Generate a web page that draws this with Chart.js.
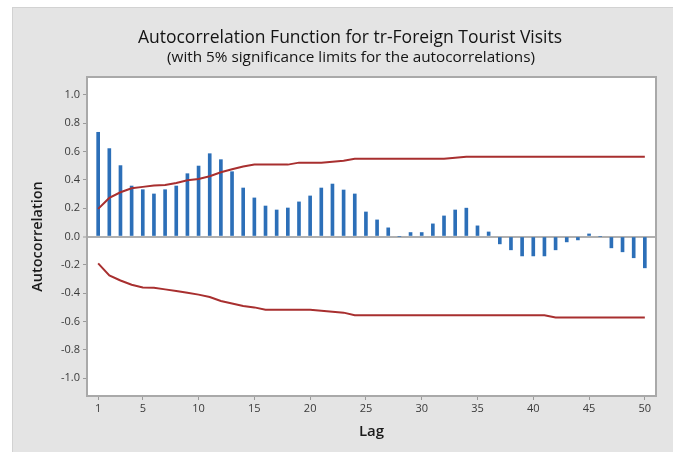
<!DOCTYPE html>
<html>
<head>
<meta charset="utf-8">
<script src="https://cdn.jsdelivr.net/npm/chart.js@4/dist/chart.umd.min.js"></script>
<style>
  html, body { margin: 0; padding: 0; background: #ffffff; }
  #wrap { width: 673px; height: 452px; }
</style>
</head>
<body>
<div id="wrap"><canvas id="acfChart" width="673" height="452"></canvas></div>
<script>
// Lags and sample autocorrelations
const lags = [1,2,3,4,5,6,7,8,9,10,11,12,13,14,15,16,17,18,19,20,21,22,23,24,25,
              26,27,28,29,30,31,32,33,34,35,36,37,38,39,40,41,42,43,44,45,46,47,48,49,50];
const acf = [0.735, 0.62, 0.50, 0.356, 0.33, 0.30, 0.33, 0.356, 0.443, 0.497,
             0.584, 0.542, 0.457, 0.342, 0.272, 0.215, 0.187, 0.201, 0.244, 0.286,
             0.342, 0.37, 0.328, 0.30, 0.173, 0.117, 0.061, 0.0, 0.028, 0.028,
             0.089, 0.145, 0.187, 0.20, 0.075, 0.032, -0.052, -0.094, -0.137, -0.137,
             -0.137, -0.094, -0.038, -0.024, 0.018, 0.0, -0.08, -0.108, -0.15, -0.221];

// 5% significance limits
const upperLimit = [0.195, 0.272, 0.312, 0.34, 0.35, 0.359, 0.364, 0.378, 0.396, 0.406,
                    0.425, 0.453, 0.474, 0.493, 0.507, 0.507, 0.507, 0.507, 0.521, 0.521,
                    0.521, 0.528, 0.535, 0.549, 0.549, 0.549, 0.549, 0.549, 0.549, 0.549,
                    0.549, 0.549, 0.556, 0.563, 0.563, 0.563, 0.563, 0.563, 0.563, 0.563,
                    0.563, 0.563, 0.563, 0.563, 0.563, 0.563, 0.563, 0.563, 0.563, 0.563];
const lowerLimit = [-0.19, -0.275, -0.31, -0.34, -0.359, -0.362, -0.373, -0.385, -0.397, -0.41,
                    -0.427, -0.455, -0.472, -0.49, -0.5, -0.516, -0.516, -0.516, -0.516, -0.516,
                    -0.523, -0.53, -0.537, -0.556, -0.556, -0.556, -0.556, -0.556, -0.556, -0.556,
                    -0.556, -0.556, -0.556, -0.556, -0.556, -0.556, -0.556, -0.556, -0.556, -0.556,
                    -0.556, -0.572, -0.572, -0.572, -0.572, -0.572, -0.572, -0.572, -0.572, -0.572];

// Axis ticks
const xTickValues = [1, 5, 10, 15, 20, 25, 30, 35, 40, 45, 50];
const yTickValues = [-1.0, -0.8, -0.6, -0.4, -0.2, 0.0, 0.2, 0.4, 0.6, 0.8, 1.0];
const yTickLabels = ['-1.0', '-0.8', '-0.6', '-0.4', '-0.2', '0.0', '0.2', '0.4', '0.6', '0.8', '1.0'];

const titleText = 'Autocorrelation Function for tr-Foreign Tourist Visits';
const subtitleText = '(with 5% significance limits for the autocorrelations)';

const FONT = '"Open Sans", "Noto Sans", sans-serif';
const BAR_BLUE = '#2c6fb8';
const LIMIT_RED = '#a82f2f';

// Grey panel, white plot area, frame and headings
const panelPlugin = {
  id: 'panel',
  beforeDraw(chart) {
    const { ctx, chartArea: a } = chart;
    ctx.save();
    ctx.fillStyle = '#ffffff';
    ctx.fillRect(0, 0, chart.width, chart.height);
    ctx.fillStyle = '#e4e4e4';
    ctx.fillRect(12, 7, chart.width - 12, chart.height - 7);
    ctx.strokeStyle = '#d2d2d2';
    ctx.lineWidth = 1;
    ctx.strokeRect(12.5, 7.5, chart.width - 12, chart.height - 7);
    ctx.fillStyle = '#ffffff';
    ctx.fillRect(a.left, a.top, a.right - a.left, a.bottom - a.top);
    ctx.restore();
  },
  afterDraw(chart) {
    const { ctx, chartArea: a } = chart;
    ctx.save();
    ctx.strokeStyle = '#a9a9a9';
    ctx.lineWidth = 2;
    ctx.strokeRect(a.left, a.top, a.right - a.left, a.bottom - a.top);
    ctx.fillStyle = '#141414';
    ctx.textAlign = 'center';
    ctx.textBaseline = 'middle';
    ctx.font = '17.5px ' + FONT;
    ctx.fillText(titleText, 350, 38);
    ctx.font = '15.3px ' + FONT;
    ctx.fillText(subtitleText, 351, 58);
    ctx.restore();
  }
};

new Chart(document.getElementById('acfChart'), {
  type: 'bar',
  data: {
    datasets: [
      {
        type: 'line',
        label: 'Upper limit',
        data: lags.map((l, i) => ({ x: l, y: upperLimit[i] })),
        borderColor: LIMIT_RED,
        borderWidth: 2,
        pointRadius: 0,
        tension: 0,
        fill: false
      },
      {
        type: 'line',
        label: 'Lower limit',
        data: lags.map((l, i) => ({ x: l, y: lowerLimit[i] })),
        borderColor: LIMIT_RED,
        borderWidth: 2,
        pointRadius: 0,
        tension: 0,
        fill: false
      },
      {
        type: 'bar',
        label: 'ACF',
        data: lags.map((l, i) => ({ x: l, y: acf[i] })),
        backgroundColor: BAR_BLUE,
        borderWidth: 0,
        barThickness: 3
      }
    ]
  },
  options: {
    responsive: false,
    animation: false,
    devicePixelRatio: 1,
    layout: { padding: { left: 0, right: 17, top: 77, bottom: 0 } },
    plugins: {
      legend: { display: false },
      tooltip: { enabled: false },
      title: { display: false }
    },
    scales: {
      x: {
        type: 'linear',
        min: 0,
        max: 51,
        offset: false,
        afterBuildTicks: s => { s.ticks = xTickValues.map(v => ({ value: v })); },
        afterFit: s => { s.height = 56; },
        ticks: {
          autoSkip: false,
          maxRotation: 0,
          padding: 2,
          color: '#3a3a3a',
          font: { family: FONT, size: 11 }
        },
        grid: {
          offset: false,
          drawOnChartArea: false,
          drawTicks: true,
          tickLength: 4,
          tickColor: '#9a9a9a',
          tickWidth: 1
        },
        border: { display: false },
        title: {
          display: true,
          text: 'Lag',
          color: '#1a1a1a',
          font: { family: FONT, size: 15, weight: '600' },
          padding: { top: 0, bottom: 11 }
        }
      },
      y: {
        type: 'linear',
        min: -1.125,
        max: 1.125,
        afterBuildTicks: s => { s.ticks = yTickValues.map(v => ({ value: v })); },
        afterFit: s => { s.width = 87; },
        ticks: {
          autoSkip: false,
          padding: 3,
          color: '#3a3a3a',
          font: { family: FONT, size: 11 },
          callback: (v, i) => yTickLabels[i]
        },
        grid: {
          drawOnChartArea: true,
          drawTicks: true,
          tickLength: 4,
          tickColor: '#9a9a9a',
          tickWidth: 1,
          color: c => (c.tick && Math.abs(c.tick.value) < 1e-9) ? '#b0b0b0' : 'rgba(0,0,0,0)',
          lineWidth: c => (c.tick && Math.abs(c.tick.value) < 1e-9) ? 2 : 1
        },
        border: { display: false },
        title: {
          display: true,
          text: 'Autocorrelation',
          color: '#1a1a1a',
          font: { family: FONT, size: 14.5, weight: '600' },
          padding: { top: 29, bottom: 0 }
        }
      }
    }
  },
  plugins: [panelPlugin]
});
</script>
</body>
</html>
